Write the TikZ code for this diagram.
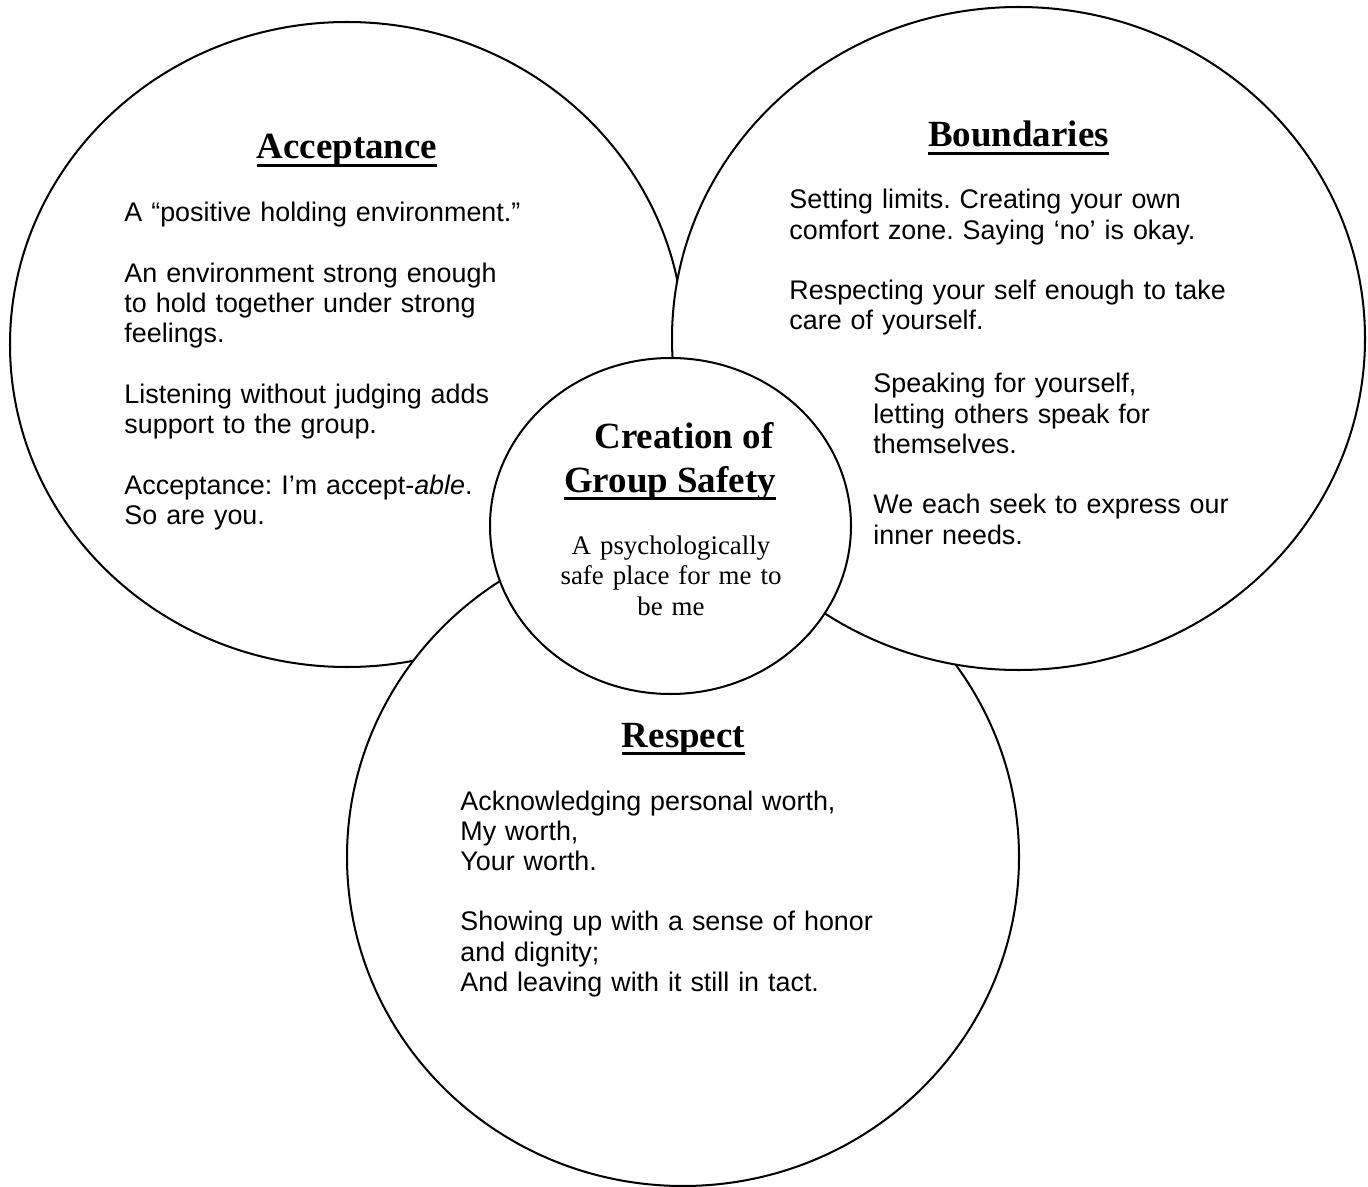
\documentclass[tikz,border=0pt]{standalone}
\usepackage{fontspec}
\setmainfont{Liberation Serif}
\setsansfont{Liberation Sans}
\frenchspacing

\newcommand{\headfont}{\rmfamily\bfseries\fontsize{16.5pt}{20pt}\selectfont}
\newcommand{\bodyfont}{\sffamily\fontsize{12pt}{13.5pt}\selectfont}
\newcommand{\midfont}{\rmfamily\fontsize{12pt}{13.7pt}\selectfont}
\newcommand{\ulin}[1]{\setbox0=\hbox{#1}\rlap{\rule[-3.4pt]{\wd0}{1.2pt}}\box0}

\begin{document}
\begin{tikzpicture}[x=0.4464pt,y=-0.4464pt,
  ring/.style={draw,line width=0.9pt,fill=white},
  head/.style={font=\headfont,inner sep=0pt,anchor=base},
  body/.style={font=\bodyfont,align=left,text width=230pt,inner sep=0pt,anchor=base west},
  mid/.style={font=\midfont,align=center,text width=120pt,inner sep=0pt,anchor=base}]
\useasboundingbox (0,0) rectangle (1368,1187);

% circles, back to front
\draw[ring] (347,344.5) ellipse [x radius=337,y radius=322.5];
\draw[ring] (683,857) ellipse [x radius=336,y radius=329];
\draw[ring] (1018.5,338.5) ellipse [x radius=346.5,y radius=331.5];
\draw[ring] (670.5,526) ellipse [x radius=180.5,y radius=168];

% Acceptance
\node[head] (acchead) at (347,159) {\ulin{Acceptance}};
\node[body] (acctext) at (124,222) {A “positive holding environment.”\\[13.5pt]
  An environment strong enough\\
  to hold together under strong\\
  feelings.\\[13.5pt]
  Listening without judging adds\\
  support to the group.\\[13.5pt]
  Acceptance: I’m accept-\textit{able}.\\
  So are you.};

% Boundaries
\node[head] (bndhead) at (1018.5,147) {\ulin{Boundaries}};
\node[body] (bndtext) at (789,209) {Setting limits. Creating your own\\
  comfort zone. Saying ‘no’ is okay.\\[13.5pt]
  Respecting your self enough to take\\
  care of yourself.};
\node[body] (bndmore) at (873,393) {Speaking for yourself,\\
  letting others speak for\\
  themselves.\\[13.5pt]
  We each seek to express our\\
  inner needs.};

% Respect
\node[head] (resphead) at (683.5,747) {\ulin{Respect}};
\node[body] (resptext) at (460,810) {Acknowledging personal worth,\\
  My worth,\\
  Your worth.\\[13.5pt]
  Showing up with a sense of honor\\
  and dignity;\\
  And leaving with it still in tact.};

% centre
\node[head] (midtop) at (684,448) {Creation of};
\node[head] (midhead) at (670,492) {\ulin{Group Safety}};
\node[mid] (midtext) at (671,554) {A psychologically\\
  safe place for me to\\
  be me};
\end{tikzpicture}
\end{document}
